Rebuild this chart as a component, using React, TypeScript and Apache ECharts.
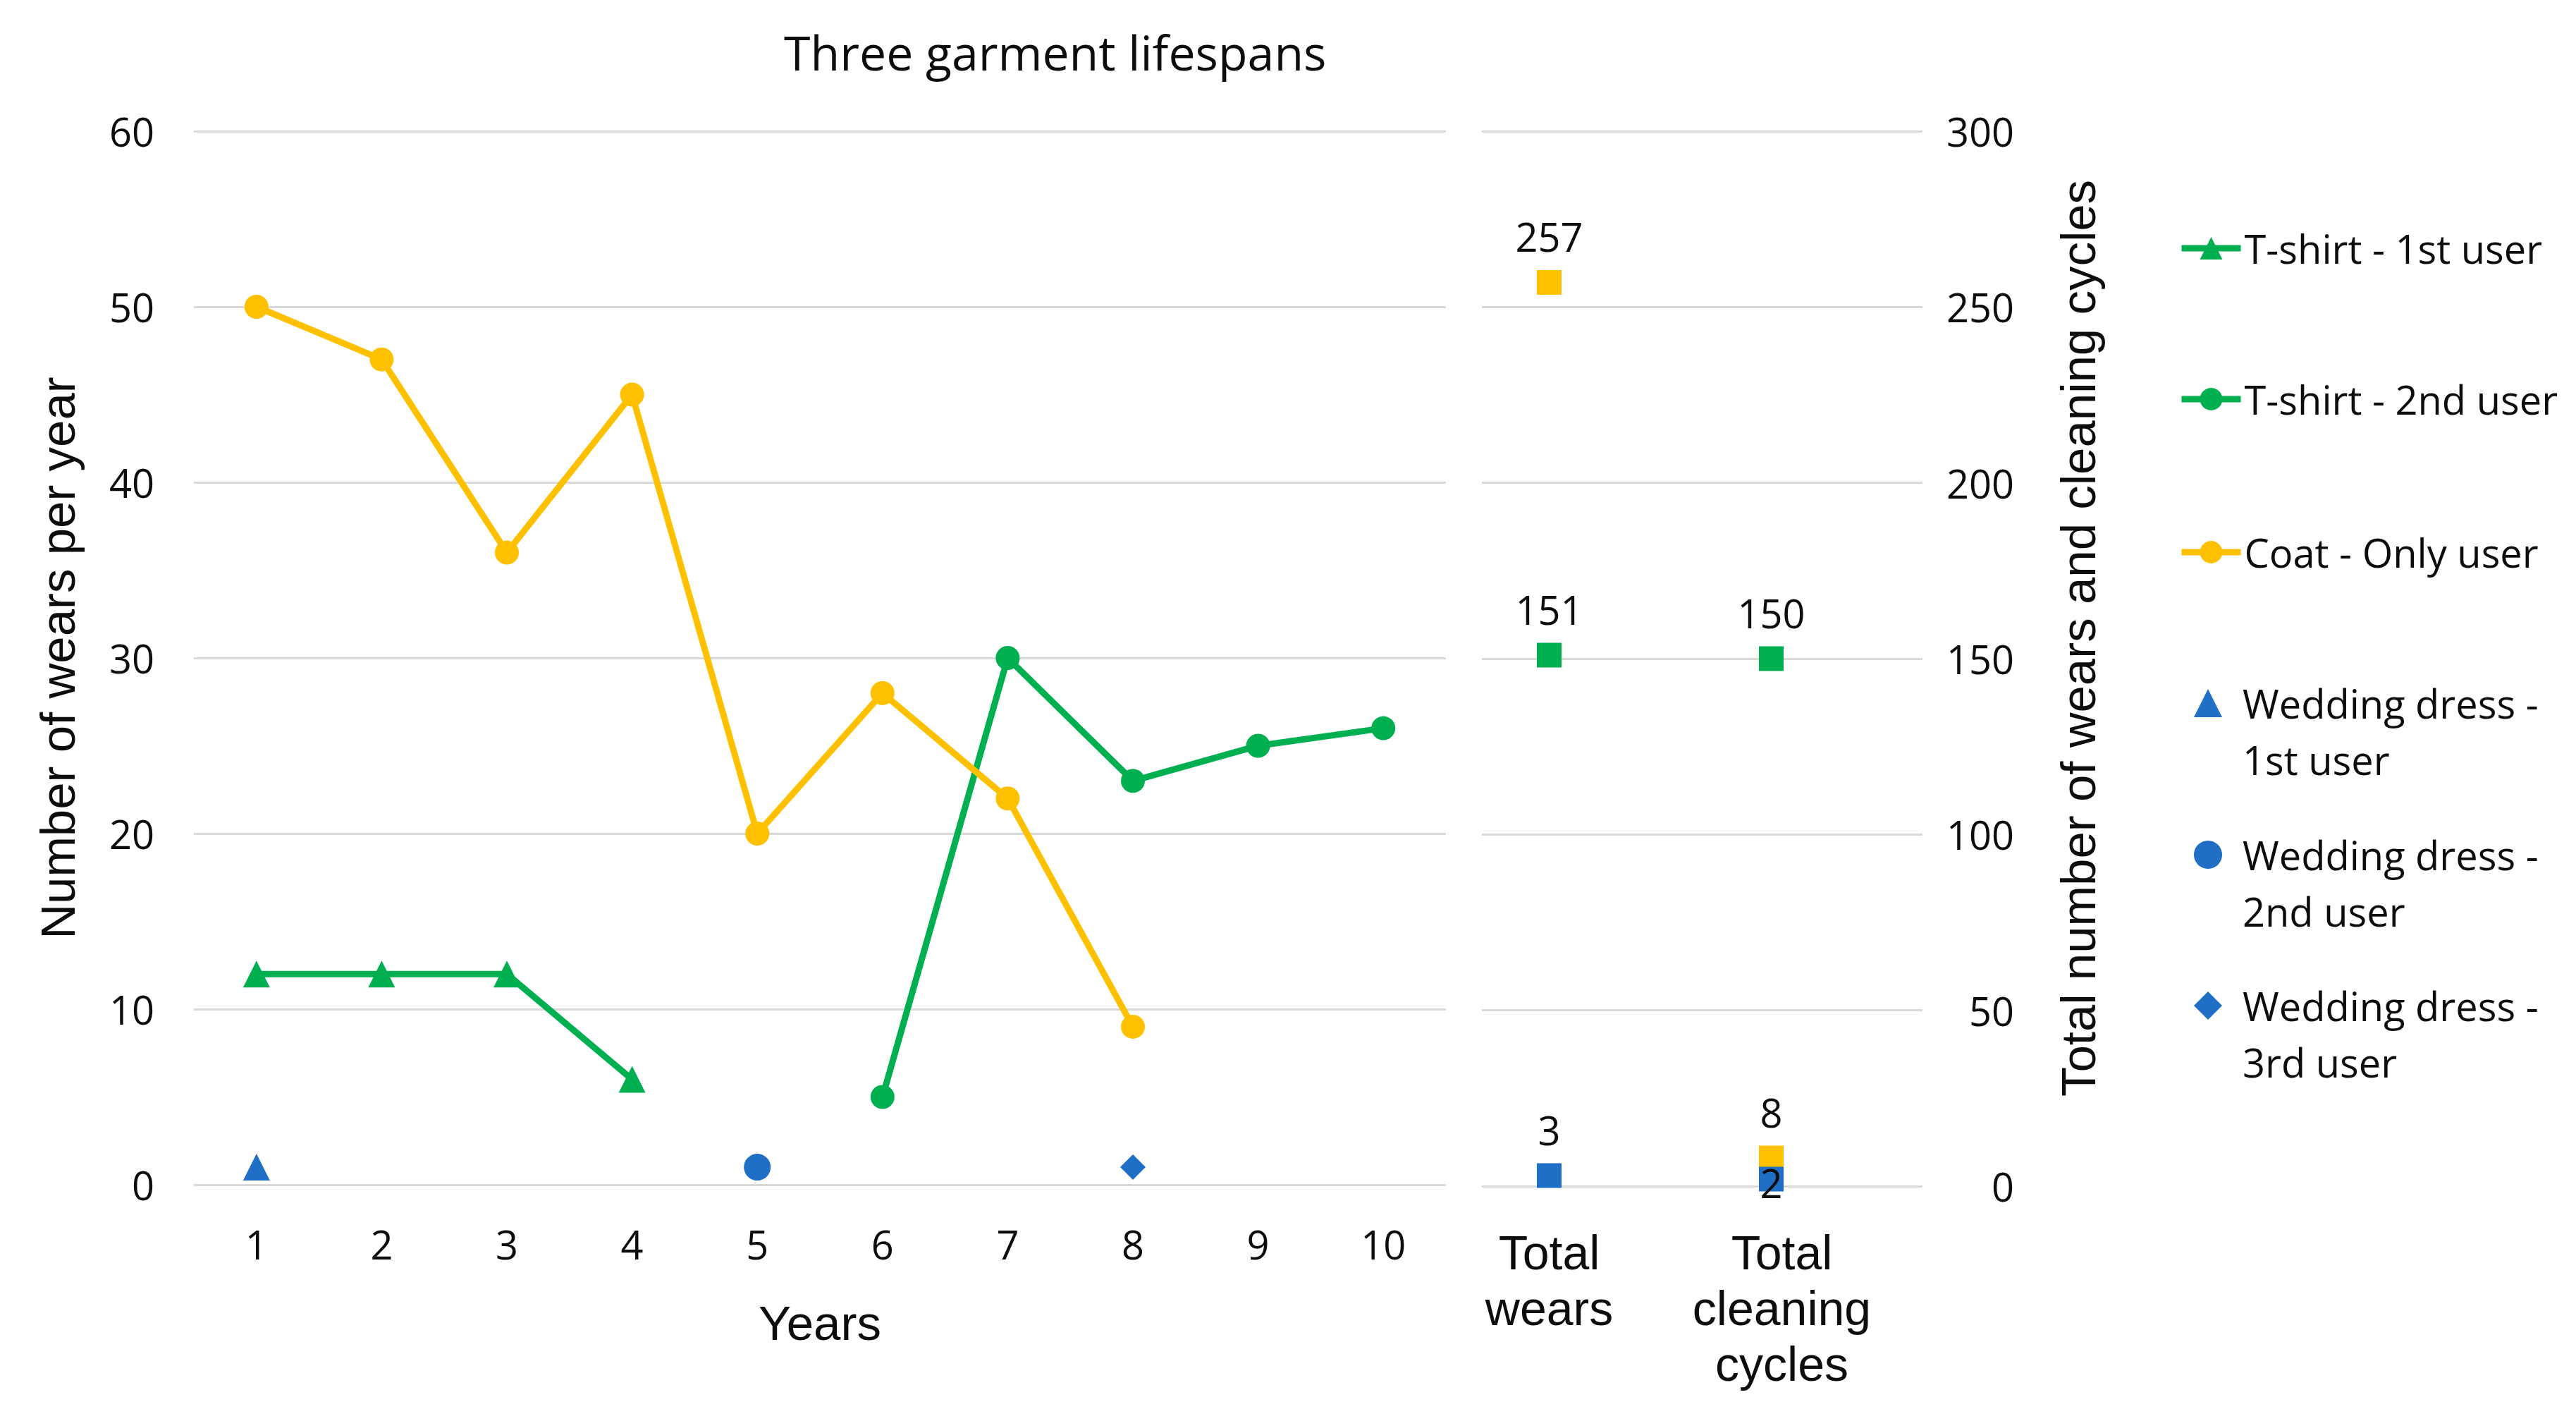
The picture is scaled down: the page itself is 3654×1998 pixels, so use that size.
import React, { useEffect, useRef } from "react";
import * as echarts from "echarts";

const years = ["1", "2", "3", "4", "5", "6", "7", "8", "9", "10"];
const tshirt1 = [12, 12, 12, 6, null, null, null, null, null, null];
const tshirt2 = [null, null, null, null, null, 5, 30, 23, 25, 26];
const coat = [50, 47, 36, 45, 20, 28, 22, 9, null, null];
const wedding1 = [1, null, null, null, null, null, null, null, null, null];
const wedding2 = [null, null, null, null, 1, null, null, null, null, null];
const wedding3 = [null, null, null, null, null, null, null, 1, null, null];

const totalCategories = ["Total wears", "Total cleaning cycles"];
const coatTotals = [257, 8];
const tshirtTotals = [151, 150];
const weddingTotals = [3, 2];

const leftAxis = { min: 0, max: 60, interval: 10 };
const rightAxis = { min: 0, max: 300, interval: 50 };

const GREEN = "#00B050";
const YELLOW = "#FFC000";
const BLUE = "#1F6FC6";
const TEXT = "#0d0d0d";
const GRIDLINE = "#D9D9D9";

const names = {
  t1: "T-shirt - 1st user",
  t2: "T-shirt - 2nd user",
  coat: "Coat - Only user",
  w1: "Wedding dress - 1st user",
  w2: "Wedding dress - 2nd user",
  w3: "Wedding dress - 3rd user",
};

const legendRows = [
  { name: names.t1, yc: 352, two: false },
  { name: names.t2, yc: 566, two: false },
  { name: names.coat, yc: 783, two: false },
  { name: names.w1, yc: 997, two: true },
  { name: names.w2, yc: 1212, two: true },
  { name: names.w3, yc: 1426, two: true },
];

export default function App() {
  const ref = useRef<HTMLDivElement>(null);

  useEffect(() => {
    if (!ref.current) return;
    const chart = echarts.init(ref.current, undefined, { renderer: "svg" });

    const tickLabel = { fontFamily: "Open Sans", fontSize: 56, color: TEXT };
    const axisTitle = {
      fontFamily: "Liberation Sans",
      fontSize: 69,
      lineHeight: 80,
      color: TEXT,
    };
    const legendFont = {
      fontFamily: "Open Sans",
      fontSize: 56,
      lineHeight: 80,
      color: TEXT,
    };

    const legends = legendRows.map((r) =>
      r.two
        ? {
            data: [r.name],
            left: 3112,
            top: r.yc - 120,
            orient: "vertical",
            padding: 0,
            itemWidth: 40,
            itemHeight: 40,
            selectedMode: false,
            formatter: (n: string) => {
              const [a, b] = n.split(" - ");
              return "\n{t|" + a + " -}\n{t|" + b + "}";
            },
            textStyle: {
              ...legendFont,
              rich: { t: { ...legendFont, padding: [0, 0, 0, 24] } },
            },
          }
        : {
            data: [r.name],
            left: 3090,
            top: r.yc - 40,
            orient: "vertical",
            padding: 0,
            itemWidth: 84,
            itemHeight: 40,
            selectedMode: false,
            lineStyle: { width: 9 },
            textStyle: legendFont,
          }
    );

    const lineSeries = (name: string, data: any[], color: string, symbol: string, size: number) => ({
      name,
      type: "line",
      data,
      xAxisIndex: 0,
      yAxisIndex: 0,
      symbol,
      symbolSize: size,
      connectNulls: false,
      lineStyle: { color, width: 9 },
      itemStyle: { color, opacity: 1 },
    });

    const scatterSeries = (name: string, data: any[], symbol: string, size: number) => ({
      name,
      type: "scatter",
      data,
      xAxisIndex: 0,
      yAxisIndex: 0,
      symbol,
      symbolSize: size,
      itemStyle: { color: BLUE, opacity: 1 },
    });

    const totalLabel = {
      show: true,
      position: "top",
      distance: 20,
      fontFamily: "Open Sans",
      fontSize: 56,
      color: TEXT,
    };

    const totalSeries = (name: string, data: any[], color: string) => ({
      name,
      type: "scatter",
      data,
      xAxisIndex: 2,
      yAxisIndex: 2,
      symbol: "rect",
      symbolSize: 35,
      itemStyle: { color, opacity: 1 },
      label: totalLabel,
    });

    const catFont = {
      fontFamily: "Liberation Sans",
      fontSize: 68,
      lineHeight: 79,
      color: TEXT,
    };

    const option: any = {
      animation: false,
      backgroundColor: "#ffffff",
      textStyle: { fontFamily: "Open Sans" },
      title: {
        text: "Three garment lifespans",
        left: 1112,
        top: 33,
        padding: 0,
        textStyle: {
          fontFamily: "Open Sans",
          fontSize: 68,
          lineHeight: 80,
          fontWeight: "normal",
          color: TEXT,
        },
      },
      legend: legends,
      grid: [
        { left: 275, top: 186, width: 1776, height: 1494 },
        { left: 2102, top: 186, width: 625, height: 1496 },
        { left: 2040, top: 186, width: 630, height: 1496 },
      ],
      xAxis: [
        {
          gridIndex: 0,
          type: "category",
          data: years,
          boundaryGap: true,
          axisLine: { show: false },
          axisTick: { show: false },
          axisLabel: { ...tickLabel, lineHeight: 64, margin: 52, interval: 0 },
          name: "Years",
          nameLocation: "middle",
          nameGap: 156,
          nameTextStyle: axisTitle,
        },
        {
          gridIndex: 1,
          type: "value",
          show: false,
        },
        {
          gridIndex: 2,
          type: "category",
          data: totalCategories,
          boundaryGap: true,
          axisLine: { show: false },
          axisTick: { show: false },
          splitLine: { show: false },
          axisLabel: {
            ...catFont,
            margin: 54,
            interval: 0,
            formatter: (v: string, i: number) =>
              v
                .split(" ")
                .map((w) => "{" + (i === 1 ? "s" : "c") + "|" + w + "}")
                .join("\n"),
            rich: {
              c: { ...catFont },
              s: { ...catFont, padding: [0, 0, 0, 30] },
            },
          },
        },
      ],
      yAxis: [
        {
          gridIndex: 0,
          type: "value",
          ...leftAxis,
          axisLine: { show: false },
          axisTick: { show: false },
          splitLine: { show: true, lineStyle: { color: GRIDLINE, width: 3 } },
          axisLabel: { ...tickLabel, margin: 56 },
          name: "Number of wears per year",
          nameLocation: "middle",
          nameGap: 153,
          nameTextStyle: axisTitle,
        },
        {
          gridIndex: 1,
          type: "value",
          position: "right",
          ...rightAxis,
          axisLine: { show: false },
          axisTick: { show: false },
          splitLine: { show: true, lineStyle: { color: GRIDLINE, width: 3 } },
          axisLabel: { ...tickLabel, margin: 130, align: "right" },
          name: "Total number of wears and cleaning cycles",
          nameLocation: "middle",
          nameGap: 181,
          nameTextStyle: { ...axisTitle, padding: [0, 0, 0, 58] },
        },
        {
          gridIndex: 2,
          type: "value",
          ...rightAxis,
          show: false,
          splitLine: { show: false },
        },
      ],
      series: [
        lineSeries(names.t1, tshirt1, GREEN, "triangle", 38),
        lineSeries(names.t2, tshirt2, GREEN, "circle", 34),
        lineSeries(names.coat, coat, YELLOW, "circle", 34),
        scatterSeries(names.w1, wedding1, "triangle", 38),
        scatterSeries(names.w2, wedding2, "circle", 38),
        scatterSeries(names.w3, wedding3, "diamond", 36),
        totalSeries("Coat - totals", coatTotals, YELLOW),
        totalSeries("T-shirt - totals", tshirtTotals, GREEN),
        {
          ...totalSeries("Wedding dress - totals", weddingTotals, BLUE),
          data: weddingTotals.map((v, i) =>
            i === 1 ? { value: v, label: { position: "inside", offset: [0, 5] } } : v
          ),
        },
      ],
    };

    chart.setOption(option);
    return () => chart.dispose();
  }, []);

  return (
    <div
      ref={ref}
      style={{ position: "fixed", left: 0, top: 0, width: 3654, height: 1998, background: "#fff" }}
    />
  );
}
